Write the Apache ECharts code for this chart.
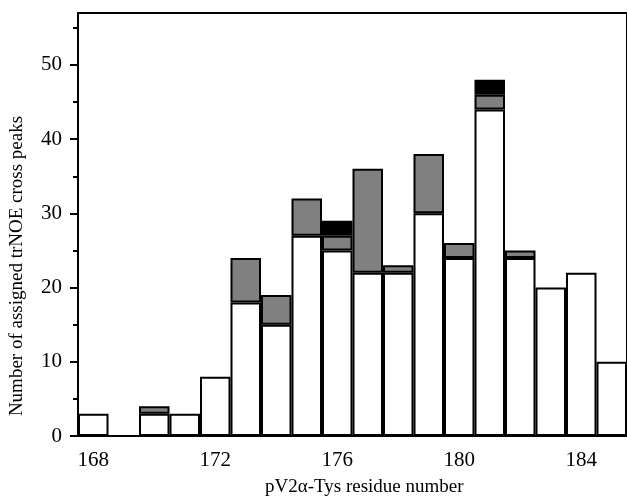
<!DOCTYPE html>
<html>
<head>
<meta charset="utf-8">
<script src="https://cdn.jsdelivr.net/npm/echarts@6/dist/echarts.min.js"></script>
<style>
  html, body { margin: 0; padding: 0; background: #fff; }
  #chart { width: 627px; height: 504px; }
</style>
</head>
<body>
<div id="chart"></div>
<script>
  // residue numbers and stacked peak counts
  var residues = ['168', '169', '170', '171', '172', '173', '174', '175', '176', '177', '178', '179', '180', '181', '182', '183', '184', '185'];
  var whitePart = [3, 0, 3, 3, 8, 18, 15, 27, 25, 22, 22, 30, 24, 44, 24, 20, 22, 10];
  var grayPart = [0, 0, 1, 0, 0, 6, 4, 5, 2, 14, 1, 8, 2, 2, 1, 0, 0, 0];
  var blackPart = [0, 0, 0, 0, 0, 0, 0, 0, 2, 0, 0, 0, 0, 2, 0, 0, 0, 0];
  var yMajorTicks = [0, 10, 20, 30, 40, 50];
  var yMinorTicks = [5, 15, 25, 35, 45, 55];

  var font = '"Liberation Serif", "Times New Roman", serif';

  function barSeries(name, vals, color) {
    return {
      type: 'bar',
      name: name,
      stack: 'peaks',
      // empty segments are skipped so they don't draw extra outlines
      data: vals.map(function (v) { return v === 0 ? '-' : v; }),
      barCategoryGap: 0,
      itemStyle: {
        color: color,
        borderColor: '#000',
        borderWidth: 2
      },
      silent: true
    };
  }

  var chart = echarts.init(document.getElementById('chart'));
  chart.setOption({
    animation: false,
    grid: {
      left: 78,
      top: 13,
      right: -1,
      bottom: 68,
      show: true,
      borderColor: '#000',
      borderWidth: 2
    },
    xAxis: [
      {
        type: 'category',
        data: residues,
        splitLine: { show: false },
        axisLine: { lineStyle: { color: '#000', width: 2 } },
        axisTick: { alignWithLabel: true, interval: 3, length: 9, lineStyle: { color: '#000', width: 2 } },
        axisLabel: {
          interval: 3,
          margin: 14,
          color: '#000',
          fontFamily: font,
          fontSize: 21
        }
      },
      {
        // minor ticks at 170, 174, 178, 182
        type: 'category',
        data: residues,
        position: 'bottom',
        splitLine: { show: false },
        axisLine: { show: false },
        axisTick: {
          alignWithLabel: true,
          interval: function (i) { return i % 4 === 2; },
          length: 6,
          lineStyle: { color: '#000', width: 2 }
        },
        axisLabel: { show: false }
      }
    ],
    yAxis: [
      {
        type: 'value',
        min: 0,
        max: 57,
        splitLine: { show: false },
        axisLine: { show: true, lineStyle: { color: '#000', width: 2 } },
        axisTick: { show: true, customValues: yMajorTicks, length: 8, lineStyle: { color: '#000', width: 2 } },
        axisLabel: {
          customValues: yMajorTicks,
          margin: 16,
          color: '#000',
          fontFamily: font,
          fontSize: 21
        }
      },
      {
        type: 'value',
        position: 'left',
        min: 0,
        max: 57,
        splitLine: { show: false },
        axisLine: { show: false },
        axisTick: { show: true, customValues: yMinorTicks, length: 5, lineStyle: { color: '#000', width: 2 } },
        axisLabel: { show: false }
      }
    ],
    series: [
      barSeries('white', whitePart, '#ffffff'),
      barSeries('gray', grayPart, '#808080'),
      barSeries('black', blackPart, '#000000')
    ],
    graphic: [
      {
        type: 'text',
        left: 385 - 120,
        top: 478,
        style: {
          text: 'pV2\u03b1-Tys residue number',
          font: '19px ' + font,
          fill: '#000',
          width: 240,
          align: 'center'
        }
      },
      {
        type: 'text',
        x: 8,
        y: 266,
        rotation: Math.PI / 2,
        style: {
          text: 'Number of assigned trNOE cross peaks',
          font: '19px ' + font,
          fill: '#000',
          align: 'center',
          verticalAlign: 'top'
        }
      }
    ]
  });
</script>
</body>
</html>
